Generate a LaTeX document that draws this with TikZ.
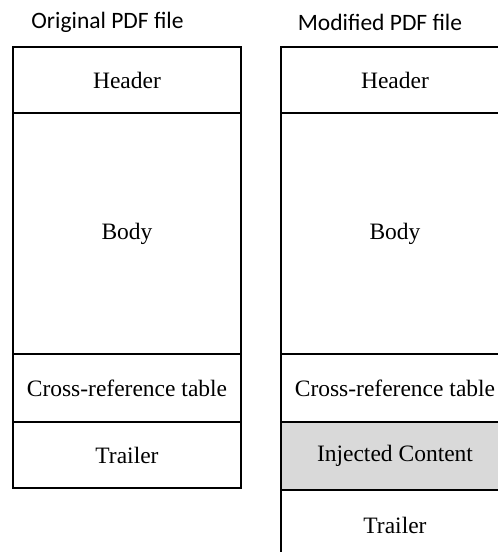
\documentclass[tikz,border=0pt]{standalone}
\usepackage{fontspec}
\setmainfont{Liberation Serif}
\newfontfamily\titlefont{Carlito}
\usetikzlibrary{positioning}
\definecolor{injgray}{HTML}{D9D9D9}
\begin{document}
\begin{tikzpicture}[x=1pt,y=-1pt,
	line width=1.2pt, % border lines
	part/.style={draw,rectangle,inner sep=0pt,outer sep=0pt,minimum width=228pt,
		font=\fontsize{23.5}{28}\selectfont},
	ttl/.style={font=\titlefont\fontsize{23.5}{28}\selectfont}]
	\path[use as bounding box,clip] (0,0) rectangle (498,552);
	% titles
	\node[ttl] (tOrig) at (107.5,22) {Original PDF file};
	\node[ttl] (tMod) at (380,22) {Modified PDF file};
	% original file
	\node[part,minimum height=66pt,anchor=north west] (oHead) at (13,47) {Header};
	\node[part,minimum height=241pt,below=0pt of oHead] (oBody) {Body};
	\node[part,minimum height=68pt,below=0pt of oBody] (oXref) {Cross-reference table};
	\node[part,minimum height=66pt,below=0pt of oXref] (oTrail) {Trailer};
	% modified file
	\node[part,minimum height=66pt,anchor=north west] (mHead) at (281,47) {Header};
	\node[part,minimum height=241pt,below=0pt of mHead] (mBody) {Body};
	\node[part,minimum height=68pt,below=0pt of mBody] (mXref) {Cross-reference table};
	\node[part,minimum height=68pt,fill=injgray,below=0pt of mXref] (mInj) {Injected Content};
	\node[part,minimum height=70pt,below=0pt of mInj] (mTrail) {Trailer};
\end{tikzpicture}
\end{document}
